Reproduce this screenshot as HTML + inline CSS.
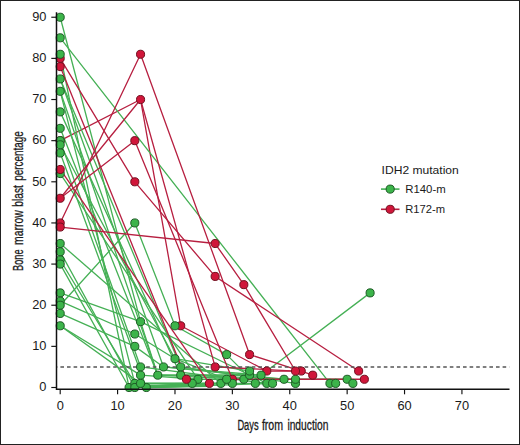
<!DOCTYPE html>
<html><head><meta charset="utf-8"><style>
html,body{margin:0;padding:0;background:#fff;}
svg{display:block;}
text{font-family:"Liberation Sans",sans-serif;fill:#1a1a1a;}
</style></head><body>
<svg width="520" height="445" viewBox="0 0 520 445">
<rect x="0.5" y="0.5" width="519" height="444" fill="#fff" stroke="#222" stroke-width="1"/>
<g fill="none" stroke-width="1.3" stroke-linejoin="round">
<path d="M134.81,387.50 L192.20,385.03" stroke="#45b055"/><path d="M129.07,387.50 L186.46,386.27" stroke="#45b055"/><path d="M140.55,386.68 L209.41,385.03" stroke="#45b055"/><path d="M134.81,385.85 L220.89,383.80" stroke="#45b055"/><path d="M146.28,387.50 L209.41,386.27" stroke="#45b055"/><path d="M134.81,384.21 L192.20,383.39" stroke="#45b055"/><path d="M60.20,140.66 L140.55,99.52 L180.72,325.79 L266.80,371.04 L301.24,371.04" stroke="#b71f40"/><path d="M60.20,17.24 L140.55,321.68 L157.76,375.16 L243.85,379.27" stroke="#45b055"/><path d="M60.20,37.81 L329.93,383.39 L335.67,383.39" stroke="#45b055"/><path d="M60.20,54.27 L129.07,387.50 L220.89,383.39" stroke="#45b055"/><path d="M60.20,78.95 L180.72,366.93 L295.50,383.39" stroke="#45b055"/><path d="M60.20,78.95 L163.50,366.93 L284.02,379.27" stroke="#45b055"/><path d="M60.20,91.29 L134.81,383.39 L232.37,383.39" stroke="#45b055"/><path d="M60.20,91.29 L157.76,375.16 L261.06,375.16 L370.11,292.88" stroke="#45b055"/><path d="M60.20,111.86 L180.72,375.16 L295.50,379.27 L347.15,379.27 L352.89,383.39" stroke="#45b055"/><path d="M60.20,128.32 L157.76,375.16 L249.59,375.16" stroke="#45b055"/><path d="M60.20,140.66 L140.55,366.93 L266.80,383.39" stroke="#45b055"/><path d="M60.20,144.77 L174.98,358.70 L226.63,379.27" stroke="#45b055"/><path d="M60.20,153.00 L146.28,387.50 L272.54,383.39" stroke="#45b055"/><path d="M60.20,173.57 L197.94,379.27 L243.85,379.27" stroke="#45b055"/><path d="M60.20,243.51 L220.89,383.39" stroke="#45b055"/><path d="M60.20,251.74 L134.81,387.50 L192.20,383.39" stroke="#45b055"/><path d="M60.20,259.97 L134.81,383.39 L255.33,383.39" stroke="#45b055"/><path d="M60.20,264.08 L129.07,387.50 L192.20,383.39" stroke="#45b055"/><path d="M60.20,292.88 L140.55,321.68 L266.80,383.39" stroke="#45b055"/><path d="M60.20,301.11 L134.81,334.02 L174.98,358.70 L249.59,371.04" stroke="#45b055"/><path d="M60.20,305.22 L134.81,222.94 L174.98,325.79 L226.63,354.59 L255.33,383.39" stroke="#45b055"/><path d="M60.20,313.45 L134.81,346.36 L163.50,366.93 L261.06,375.16" stroke="#45b055"/><path d="M60.20,325.79 L140.55,383.39 L232.37,383.39" stroke="#45b055"/><path d="M60.20,325.79 L140.55,375.16 L197.94,379.27" stroke="#45b055"/><path d="M60.20,222.94 L140.55,54.27 L249.59,354.59 L301.24,371.04 L312.72,375.16" stroke="#b71f40"/><path d="M60.20,198.26 L140.55,99.52 L215.15,366.93 L295.50,371.04" stroke="#b71f40"/><path d="M60.20,198.26 L134.81,140.66 L232.37,379.27 L364.37,379.27" stroke="#b71f40"/><path d="M60.20,169.46 L209.41,383.39" stroke="#b71f40"/><path d="M60.20,58.38 L134.81,181.80 L215.15,276.42 L358.63,371.04" stroke="#b71f40"/><path d="M60.20,66.61 L186.46,379.27" stroke="#b71f40"/><path d="M60.20,227.05 L215.15,243.51 L243.85,284.65 L295.50,371.04" stroke="#b71f40"/>
</g>
<line x1="56.5" y1="366.93" x2="509.4" y2="366.93" stroke="#555" stroke-width="1.5" stroke-dasharray="3.6,3" stroke-dashoffset="2.7"/>
<g stroke-width="1">
<circle cx="60.20" cy="140.66" r="4.05" fill="#d0163a" stroke="#70101f"/><circle cx="60.20" cy="58.38" r="4.05" fill="#d0163a" stroke="#70101f"/><circle cx="232.37" cy="379.27" r="4.05" fill="#d0163a" stroke="#70101f"/><circle cx="140.55" cy="99.52" r="4.05" fill="#d0163a" stroke="#70101f"/><circle cx="180.72" cy="325.79" r="4.05" fill="#d0163a" stroke="#70101f"/><circle cx="266.80" cy="371.04" r="4.05" fill="#d0163a" stroke="#70101f"/><circle cx="301.24" cy="371.04" r="4.05" fill="#d0163a" stroke="#70101f"/><circle cx="134.81" cy="181.80" r="4.05" fill="#d0163a" stroke="#70101f"/><circle cx="215.15" cy="276.42" r="4.05" fill="#d0163a" stroke="#70101f"/><circle cx="358.63" cy="371.04" r="4.05" fill="#d0163a" stroke="#70101f"/><circle cx="60.20" cy="17.24" r="4.05" fill="#3cb44a" stroke="#1d5a25"/><circle cx="140.55" cy="321.68" r="4.05" fill="#3cb44a" stroke="#1d5a25"/><circle cx="157.76" cy="375.16" r="4.05" fill="#3cb44a" stroke="#1d5a25"/><circle cx="243.85" cy="379.27" r="4.05" fill="#3cb44a" stroke="#1d5a25"/><circle cx="60.20" cy="37.81" r="4.05" fill="#3cb44a" stroke="#1d5a25"/><circle cx="329.93" cy="383.39" r="4.05" fill="#3cb44a" stroke="#1d5a25"/><circle cx="335.67" cy="383.39" r="4.05" fill="#3cb44a" stroke="#1d5a25"/><circle cx="60.20" cy="54.27" r="4.05" fill="#3cb44a" stroke="#1d5a25"/><circle cx="129.07" cy="387.50" r="4.05" fill="#3cb44a" stroke="#1d5a25"/><circle cx="220.89" cy="383.39" r="4.05" fill="#3cb44a" stroke="#1d5a25"/><circle cx="60.20" cy="78.95" r="4.05" fill="#3cb44a" stroke="#1d5a25"/><circle cx="180.72" cy="366.93" r="4.05" fill="#3cb44a" stroke="#1d5a25"/><circle cx="295.50" cy="383.39" r="4.05" fill="#3cb44a" stroke="#1d5a25"/><circle cx="163.50" cy="366.93" r="4.05" fill="#3cb44a" stroke="#1d5a25"/><circle cx="284.02" cy="379.27" r="4.05" fill="#3cb44a" stroke="#1d5a25"/><circle cx="60.20" cy="91.29" r="4.05" fill="#3cb44a" stroke="#1d5a25"/><circle cx="134.81" cy="383.39" r="4.05" fill="#3cb44a" stroke="#1d5a25"/><circle cx="232.37" cy="383.39" r="4.05" fill="#3cb44a" stroke="#1d5a25"/><circle cx="261.06" cy="375.16" r="4.05" fill="#3cb44a" stroke="#1d5a25"/><circle cx="370.11" cy="292.88" r="4.05" fill="#3cb44a" stroke="#1d5a25"/><circle cx="60.20" cy="111.86" r="4.05" fill="#3cb44a" stroke="#1d5a25"/><circle cx="180.72" cy="375.16" r="4.05" fill="#3cb44a" stroke="#1d5a25"/><circle cx="295.50" cy="379.27" r="4.05" fill="#3cb44a" stroke="#1d5a25"/><circle cx="347.15" cy="379.27" r="4.05" fill="#3cb44a" stroke="#1d5a25"/><circle cx="352.89" cy="383.39" r="4.05" fill="#3cb44a" stroke="#1d5a25"/><circle cx="60.20" cy="128.32" r="4.05" fill="#3cb44a" stroke="#1d5a25"/><circle cx="249.59" cy="375.16" r="4.05" fill="#3cb44a" stroke="#1d5a25"/><circle cx="60.20" cy="140.66" r="4.05" fill="#3cb44a" stroke="#1d5a25"/><circle cx="140.55" cy="366.93" r="4.05" fill="#3cb44a" stroke="#1d5a25"/><circle cx="266.80" cy="383.39" r="4.05" fill="#3cb44a" stroke="#1d5a25"/><circle cx="60.20" cy="144.77" r="4.05" fill="#3cb44a" stroke="#1d5a25"/><circle cx="174.98" cy="358.70" r="4.05" fill="#3cb44a" stroke="#1d5a25"/><circle cx="226.63" cy="379.27" r="4.05" fill="#3cb44a" stroke="#1d5a25"/><circle cx="60.20" cy="153.00" r="4.05" fill="#3cb44a" stroke="#1d5a25"/><circle cx="146.28" cy="387.50" r="4.05" fill="#3cb44a" stroke="#1d5a25"/><circle cx="272.54" cy="383.39" r="4.05" fill="#3cb44a" stroke="#1d5a25"/><circle cx="60.20" cy="173.57" r="4.05" fill="#3cb44a" stroke="#1d5a25"/><circle cx="197.94" cy="379.27" r="4.05" fill="#3cb44a" stroke="#1d5a25"/><circle cx="60.20" cy="243.51" r="4.05" fill="#3cb44a" stroke="#1d5a25"/><circle cx="60.20" cy="251.74" r="4.05" fill="#3cb44a" stroke="#1d5a25"/><circle cx="134.81" cy="387.50" r="4.05" fill="#3cb44a" stroke="#1d5a25"/><circle cx="192.20" cy="383.39" r="4.05" fill="#3cb44a" stroke="#1d5a25"/><circle cx="60.20" cy="259.97" r="4.05" fill="#3cb44a" stroke="#1d5a25"/><circle cx="255.33" cy="383.39" r="4.05" fill="#3cb44a" stroke="#1d5a25"/><circle cx="60.20" cy="264.08" r="4.05" fill="#3cb44a" stroke="#1d5a25"/><circle cx="60.20" cy="292.88" r="4.05" fill="#3cb44a" stroke="#1d5a25"/><circle cx="60.20" cy="301.11" r="4.05" fill="#3cb44a" stroke="#1d5a25"/><circle cx="134.81" cy="334.02" r="4.05" fill="#3cb44a" stroke="#1d5a25"/><circle cx="249.59" cy="371.04" r="4.05" fill="#3cb44a" stroke="#1d5a25"/><circle cx="60.20" cy="305.22" r="4.05" fill="#3cb44a" stroke="#1d5a25"/><circle cx="134.81" cy="222.94" r="4.05" fill="#3cb44a" stroke="#1d5a25"/><circle cx="174.98" cy="325.79" r="4.05" fill="#3cb44a" stroke="#1d5a25"/><circle cx="226.63" cy="354.59" r="4.05" fill="#3cb44a" stroke="#1d5a25"/><circle cx="60.20" cy="313.45" r="4.05" fill="#3cb44a" stroke="#1d5a25"/><circle cx="134.81" cy="346.36" r="4.05" fill="#3cb44a" stroke="#1d5a25"/><circle cx="60.20" cy="325.79" r="4.05" fill="#3cb44a" stroke="#1d5a25"/><circle cx="140.55" cy="383.39" r="4.05" fill="#3cb44a" stroke="#1d5a25"/><circle cx="140.55" cy="375.16" r="4.05" fill="#3cb44a" stroke="#1d5a25"/><circle cx="60.20" cy="222.94" r="4.05" fill="#d0163a" stroke="#70101f"/><circle cx="140.55" cy="54.27" r="4.05" fill="#d0163a" stroke="#70101f"/><circle cx="249.59" cy="354.59" r="4.05" fill="#d0163a" stroke="#70101f"/><circle cx="312.72" cy="375.16" r="4.05" fill="#d0163a" stroke="#70101f"/><circle cx="60.20" cy="198.26" r="4.05" fill="#d0163a" stroke="#70101f"/><circle cx="215.15" cy="366.93" r="4.05" fill="#d0163a" stroke="#70101f"/><circle cx="295.50" cy="371.04" r="4.05" fill="#d0163a" stroke="#70101f"/><circle cx="134.81" cy="140.66" r="4.05" fill="#d0163a" stroke="#70101f"/><circle cx="364.37" cy="379.27" r="4.05" fill="#d0163a" stroke="#70101f"/><circle cx="60.20" cy="169.46" r="4.05" fill="#d0163a" stroke="#70101f"/><circle cx="209.41" cy="383.39" r="4.05" fill="#d0163a" stroke="#70101f"/><circle cx="60.20" cy="66.61" r="4.05" fill="#d0163a" stroke="#70101f"/><circle cx="186.46" cy="379.27" r="4.05" fill="#d0163a" stroke="#70101f"/><circle cx="60.20" cy="227.05" r="4.05" fill="#d0163a" stroke="#70101f"/><circle cx="215.15" cy="243.51" r="4.05" fill="#d0163a" stroke="#70101f"/><circle cx="243.85" cy="284.65" r="4.05" fill="#d0163a" stroke="#70101f"/>
</g>
<g stroke="#111" fill="none">
<path d="M56.5,12.3 V389.2 H509.5" stroke-width="1.5"/>
<g stroke-width="1.15"><line x1="51.3" y1="387.50" x2="56.5" y2="387.50"/><line x1="51.3" y1="346.36" x2="56.5" y2="346.36"/><line x1="51.3" y1="305.22" x2="56.5" y2="305.22"/><line x1="51.3" y1="264.08" x2="56.5" y2="264.08"/><line x1="51.3" y1="222.94" x2="56.5" y2="222.94"/><line x1="51.3" y1="181.80" x2="56.5" y2="181.80"/><line x1="51.3" y1="140.66" x2="56.5" y2="140.66"/><line x1="51.3" y1="99.52" x2="56.5" y2="99.52"/><line x1="51.3" y1="58.38" x2="56.5" y2="58.38"/><line x1="51.3" y1="17.24" x2="56.5" y2="17.24"/><line x1="60.20" y1="389" x2="60.20" y2="394.3"/><line x1="117.59" y1="389" x2="117.59" y2="394.3"/><line x1="174.98" y1="389" x2="174.98" y2="394.3"/><line x1="232.37" y1="389" x2="232.37" y2="394.3"/><line x1="289.76" y1="389" x2="289.76" y2="394.3"/><line x1="347.15" y1="389" x2="347.15" y2="394.3"/><line x1="404.54" y1="389" x2="404.54" y2="394.3"/><line x1="461.93" y1="389" x2="461.93" y2="394.3"/></g>
</g>
<g font-size="12" text-anchor="end"><text transform="translate(46.5,391.25) scale(1.07,1)">0</text><text transform="translate(46.5,350.11) scale(1.07,1)">10</text><text transform="translate(46.5,308.97) scale(1.07,1)">20</text><text transform="translate(46.5,267.83) scale(1.07,1)">30</text><text transform="translate(46.5,226.69) scale(1.07,1)">40</text><text transform="translate(46.5,185.55) scale(1.07,1)">50</text><text transform="translate(46.5,144.41) scale(1.07,1)">60</text><text transform="translate(46.5,103.27) scale(1.07,1)">70</text><text transform="translate(46.5,62.13) scale(1.07,1)">80</text><text transform="translate(46.5,20.99) scale(1.07,1)">90</text></g>
<g font-size="12" text-anchor="middle"><text transform="translate(60.20,410.2) scale(1.07,1)">0</text><text transform="translate(117.59,410.2) scale(1.07,1)">10</text><text transform="translate(174.98,410.2) scale(1.07,1)">20</text><text transform="translate(232.37,410.2) scale(1.07,1)">30</text><text transform="translate(289.76,410.2) scale(1.07,1)">40</text><text transform="translate(347.15,410.2) scale(1.07,1)">50</text><text transform="translate(404.54,410.2) scale(1.07,1)">60</text><text transform="translate(461.93,410.2) scale(1.07,1)">70</text></g>
<g font-size="14" stroke="#1a1a1a" stroke-width="0.3" lengthAdjust="spacingAndGlyphs">
<text x="237.4" y="429.8" textLength="21.2" lengthAdjust="spacingAndGlyphs">Days</text>
<text x="261.9" y="429.8" textLength="21.2" lengthAdjust="spacingAndGlyphs">from</text>
<text x="287.4" y="429.8" textLength="41" lengthAdjust="spacingAndGlyphs">induction</text>
</g>
<g font-size="14" stroke="#1a1a1a" stroke-width="0.3" transform="translate(23.0,0) rotate(-90)">
<text x="-271.0" y="0" textLength="21.6" lengthAdjust="spacingAndGlyphs">Bone</text>
<text x="-244.9" y="0" textLength="34.8" lengthAdjust="spacingAndGlyphs">marrow</text>
<text x="-206.7" y="0" textLength="21.5" lengthAdjust="spacingAndGlyphs">blast</text>
<text x="-180.8" y="0" textLength="49.7" lengthAdjust="spacingAndGlyphs">percentage</text>
</g>
<text x="381.6" y="173.7" font-size="11.2" textLength="77.2" lengthAdjust="spacingAndGlyphs">IDH2 mutation</text>
<line x1="381" y1="189.1" x2="399.5" y2="189.1" stroke="#45b055" stroke-width="1.6"/>
<circle cx="390.2" cy="189.1" r="4.05" fill="#3cb44a" stroke="#1d5a25" stroke-width="1"/>
<text x="405.2" y="192.6" font-size="11" textLength="40.5" lengthAdjust="spacingAndGlyphs">R140-m</text>
<line x1="381" y1="209.3" x2="399.5" y2="209.3" stroke="#b71f40" stroke-width="1.6"/>
<circle cx="390.2" cy="209.3" r="4.05" fill="#d0163a" stroke="#70101f" stroke-width="1"/>
<text x="405.2" y="212.8" font-size="11" textLength="39.8" lengthAdjust="spacingAndGlyphs">R172-m</text>
</svg>
</body></html>
